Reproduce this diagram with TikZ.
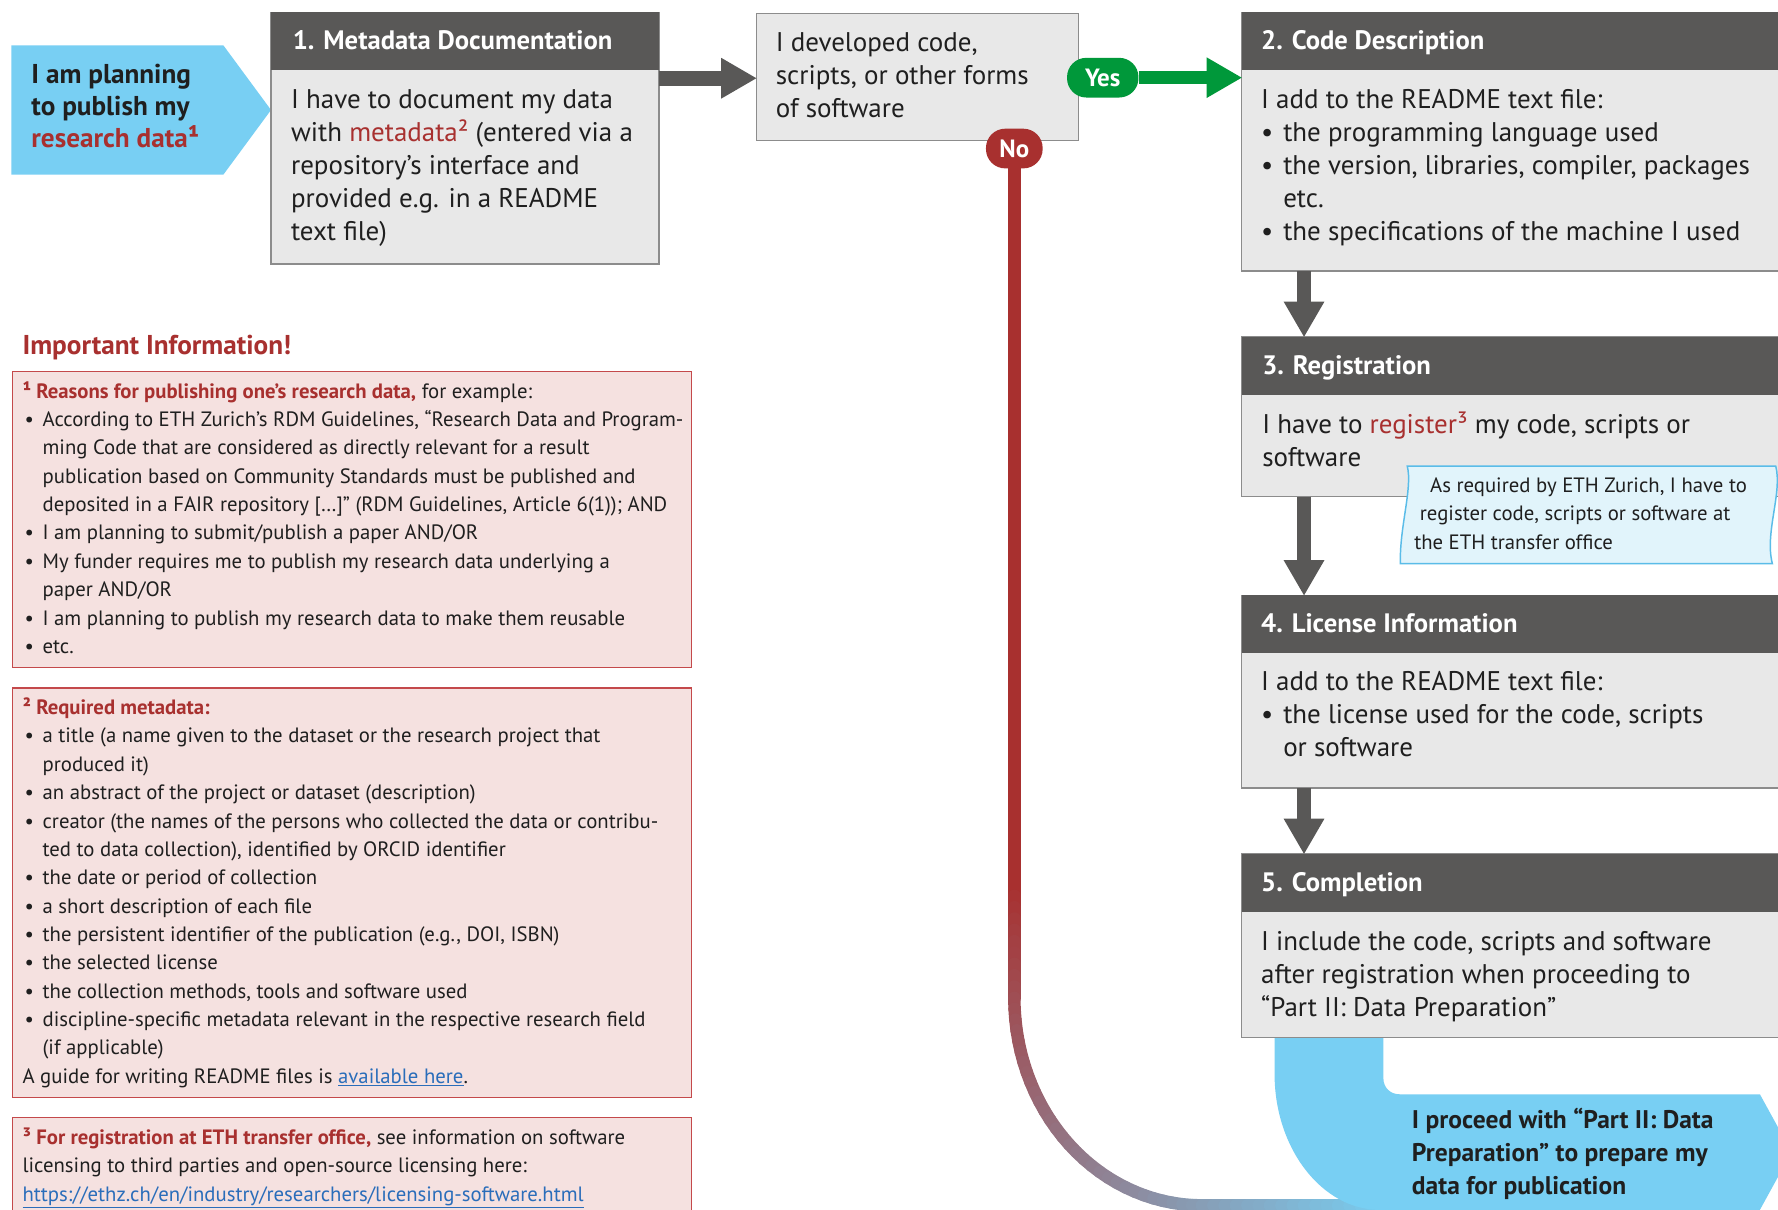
\documentclass[tikz,border=0pt]{standalone}
\usepackage{fontspec}
\setmainfont{PT Sans}
\usetikzlibrary{arrows.meta}
\definecolor{hdrgray}{HTML}{595857}
\definecolor{bodygray}{HTML}{E8E8E8}
\definecolor{bordergray}{HTML}{8C8C8C}
\definecolor{txtdark}{HTML}{1F1F1F}
\definecolor{redtxt}{HTML}{A8302F}
\definecolor{lblue}{HTML}{78CFF3}
\definecolor{greenc}{HTML}{00983A}
\definecolor{rline}{HTML}{A8302F}
\definecolor{pinkfill}{HTML}{F5E1E0}
\definecolor{pinkdraw}{HTML}{C4494B}
\definecolor{notefill}{HTML}{E1F4FB}
\definecolor{notedraw}{HTML}{5ABCE8}
\definecolor{linkblue}{HTML}{2A6DBA}
\newcommand\bodyfs{\fontsize{23.8}{29}\selectfont}
\newcommand\infofs{\fontsize{18.3}{25}\selectfont}
\newcommand\titlefs{\fontsize{23.5}{29}\selectfont\bfseries}
\newcommand\bul{\makebox[19.5pt][l]{•}}
\newcommand\ind{\hspace*{19.5pt}}
\newcommand\ibul{\hspace*{1.9pt}\makebox[15.8pt][l]{•}}
\newcommand\iind{\hspace*{17.7pt}}
\newcommand\rt[1]{\textcolor{redtxt}{#1}}
\tikzset{
  boxbody/.style={draw=bordergray, line width=1.3pt, fill=bodygray, anchor=north west, inner sep=0pt, outer sep=0pt},
  boxhead/.style={fill=hdrgray, anchor=north west, inner sep=0pt, outer sep=0pt},
  bodytext/.style={anchor=north west, inner sep=0pt, align=left, font=\bodyfs, text=txtdark},
  titletext/.style={anchor=base west, inner sep=0pt, font=\titlefs, text=white},
  infobox/.style={draw=pinkdraw, line width=1.2pt, fill=pinkfill, anchor=north west, inner sep=0pt},
  infotext/.style={anchor=north west, inner sep=0pt, align=left, font=\infofs, text=txtdark},
  pill/.style={rounded corners=17pt, inner sep=0pt, text=white, font=\fontsize{22}{26}\selectfont\bfseries},
  darrow/.style={draw=hdrgray, line width=13pt, -{Triangle[width=36pt,length=31pt,line width=0pt]}},
  garrow/.style={draw=greenc, line width=12pt, -{Triangle[width=36pt,length=31pt,line width=0pt]}},
  seg/.style={line width=11pt, line cap=round},
}
\begin{document}
\begin{tikzpicture}[x=1pt,y=-1pt]
\useasboundingbox (0,0) rectangle (1568,1067);
\fill[white] (0,0) rectangle (1568,1067);

% start shape
\fill[lblue] (10,40) -- (197,40) -- (239,97) -- (197,154) -- (10,154) -- cycle;
\node[anchor=north west, inner sep=0pt, align=left, text=txtdark, font=\fontsize{24}{28}\selectfont\bfseries] (start) at (27.5,53.9)
  {\strut I am planning\\to publish my\\\rt{research data¹}};

% box 1
\node[boxbody, minimum width=342, minimum height=222] (b1) at (239,11) {};
\node[boxhead, minimum width=342, minimum height=51] (h1) at (239,11) {};
\node[titletext] (t1h) at (258,44) {1. Metadata Documentation};
\node[bodytext] (t1) at (256.5,75.2) {\strut I have to document my data\\with \rt{metadata²} (entered via a\\repository’s interface and\\provided e.g. in a README\\text file)};

% decision
\node[boxbody, minimum width=284, minimum height=112] (dec) at (667,12) {};
\node[bodytext] (tdec) at (684,25.3) {\strut I developed code,\\scripts, or other forms\\of software};

% red gradient line
\draw[line width=11pt, rline] (894.5,140) -- (894.5,781);
\foreach \k in {0,...,9}{
  \pgfmathsetmacro\ya{780+10*\k}
  \pgfmathsetmacro\yb{790+10*\k}
  \pgfmathtruncatemacro\pct{(10*\k+5)/5.44}
  \draw[seg, color=lblue!\pct!rline] (894.5,\ya) -- (894.5,\yb);
}
\foreach \k in {0,...,29}{
  \pgfmathsetmacro\xa{1060-165.5*cos(3*\k)}
  \pgfmathsetmacro\ya{880+183*sin(3*\k)}
  \pgfmathsetmacro\xb{1060-165.5*cos(3*\k+3)}
  \pgfmathsetmacro\yb{880+183*sin(3*\k+3)}
  \pgfmathtruncatemacro\pct{(100+3.0444*(3*\k+1.5))/5.44}
  \draw[seg, color=lblue!\pct!rline] (\xa,\ya) -- (\xb,\yb);
}
\foreach \k in {0,...,15}{
  \pgfmathsetmacro\xa{1060+10*\k}
  \pgfmathsetmacro\xb{1070+10*\k}
  \pgfmathtruncatemacro\pct{min(100,(374+10*\k+5)/5.44)}
  \draw[seg, color=lblue!\pct!rline] (\xa,1063) -- (\xb,1063);
}

% end shape
\fill[lblue] (1124,900) -- (1124,947) .. controls (1124,1013) and (1166,1067) .. (1217,1067)
  -- (1552,1067) -- (1580,1016) -- (1552,965) -- (1234,965) .. controls (1226,965) and (1220,959) .. (1220,951)
  -- (1220,900) -- cycle;
\node[anchor=north west, inner sep=0pt, align=left, text=txtdark, font=\fontsize{22.5}{29}\selectfont\bfseries] (fin) at (1245,974.7)
  {\strut I proceed with “Part II: Data\\Preparation” to prepare my\\data for publication};

% box 2
\node[boxbody, minimum width=600, minimum height=228] (b2) at (1095,11) {};
\node[boxhead, minimum width=600, minimum height=51] (h2) at (1095,11) {};
\node[titletext] (t2h) at (1112,44) {2. Code Description};
\node[bodytext] (t2) at (1112,75.2) {\strut I add to the README text file:\\\bul the programming language used\\\bul the version, libraries, compiler, packages\\\ind etc.\\\bul the specifications of the machine I used};

% box 3
\node[boxbody, minimum width=600, minimum height=141] (b3) at (1095,297) {};
\node[boxhead, minimum width=600, minimum height=51] (h3) at (1095,297) {};
\node[titletext] (t3h) at (1113,330) {3. Registration};
\node[bodytext] (t3) at (1113,361.7) {\strut I have to \rt{register³} my code, scripts or\\software};

% note
\path[fill=notefill, draw=notedraw, line width=1.3pt] (1241,411) -- (1566,411) .. controls (1572,435) and (1556,470) .. (1563,497) -- (1235,497) .. controls (1234,465) and (1246,430) .. (1241,411) -- cycle;
\node[infotext] (note) at (1247,416.5) {\strut\hspace*{14pt}As required by ETH Zurich, I have to\\\hspace*{5pt}register code, scripts or software at\\the ETH transfer office};

% box 4
\node[boxbody, minimum width=600, minimum height=170] (b4) at (1095,525) {};
\node[boxhead, minimum width=600, minimum height=51] (h4) at (1095,525) {};
\node[titletext] (t4h) at (1112,558) {4. License Information};
\node[bodytext] (t4) at (1112,588.7) {\strut I add to the README text file:\\\bul the license used for the code, scripts\\\ind or software};

% box 5
\node[boxbody, minimum width=600, minimum height=162] (b5) at (1095,753) {};
\node[boxhead, minimum width=600, minimum height=51] (h5) at (1095,753) {};
\node[titletext] (t5h) at (1112,786) {5. Completion};
\node[bodytext] (t5) at (1112,817.7) {\strut I include the code, scripts and software\\after registration when proceeding to\\“Part II: Data Preparation”};

% pills
\node[pill, fill=greenc, minimum width=63, minimum height=35] (yes) at (972.5,68.5) {Yes};
\node[pill, fill=rline, minimum width=50, minimum height=35] (no) at (894.5,131) {No};

% arrows
\draw[darrow] (b1.east |- 0,69) -- (dec.west |- 0,69);
\draw[garrow] (yes.east) -- (yes.east -| b2.west);
\draw[darrow] (b2.south -| 1150,0) -- (b3.north -| 1150,0);
\draw[darrow] (b3.south -| 1150,0) -- (b4.north -| 1150,0);
\draw[darrow] (b4.south -| 1150,0) -- (b5.north -| 1150,0);

% info
\node[anchor=base west, inner sep=0pt, text=redtxt, font=\fontsize{24}{28}\selectfont\bfseries] (imp) at (19.7,313) {Important Information!};

\node[infobox, minimum width=599, minimum height=261] (i1) at (10.5,327) {};
\node[infotext] (it1) at (19.7,333.5) {\strut\textbf{\rt{¹ Reasons for publishing one’s research data,}} for example:\\
\ibul According to ETH Zurich’s RDM Guidelines, “Research Data and Program-\\
\iind ming Code that are considered as directly relevant for a result\\
\iind publication based on Community Standards must be published and\\
\iind deposited in a FAIR repository […]” (RDM Guidelines, Article 6(1)); AND\\
\ibul I am planning to submit/publish a paper AND/OR\\
\ibul My funder requires me to publish my research data underlying a\\
\iind paper AND/OR\\
\ibul I am planning to publish my research data to make them reusable\\
\ibul etc.};

\node[infobox, minimum width=599, minimum height=361] (i2) at (10.5,606) {};
\node[infotext] (it2) at (19.7,612.5) {\strut\textbf{\rt{² Required metadata:}}\\
\ibul a title (a name given to the dataset or the research project that\\
\iind produced it)\\
\ibul an abstract of the project or dataset (description)\\
\ibul creator (the names of the persons who collected the data or contribu-\\
\iind ted to data collection), identified by ORCID identifier\\
\ibul the date or period of collection\\
\ibul a short description of each file\\
\ibul the persistent identifier of the publication (e.g., DOI, ISBN)\\
\ibul the selected license\\
\ibul the collection methods, tools and software used\\
\ibul discipline-specific metadata relevant in the respective research field\\
\iind (if applicable)\\
A guide for writing README files is \textcolor{linkblue}{\underline{available here}}.};

\node[infobox, minimum width=599, minimum height=100] (i3) at (10.5,985) {};
\node[infotext] (it3) at (19.7,991.5) {\strut\textbf{\rt{³ For registration at ETH transfer office,}} see information on software\\
licensing to third parties and open-source licensing here:\\
\textcolor{linkblue}{\underline{https://ethz.ch/en/industry/researchers/licensing-software.html}}};
\end{tikzpicture}
\end{document}
